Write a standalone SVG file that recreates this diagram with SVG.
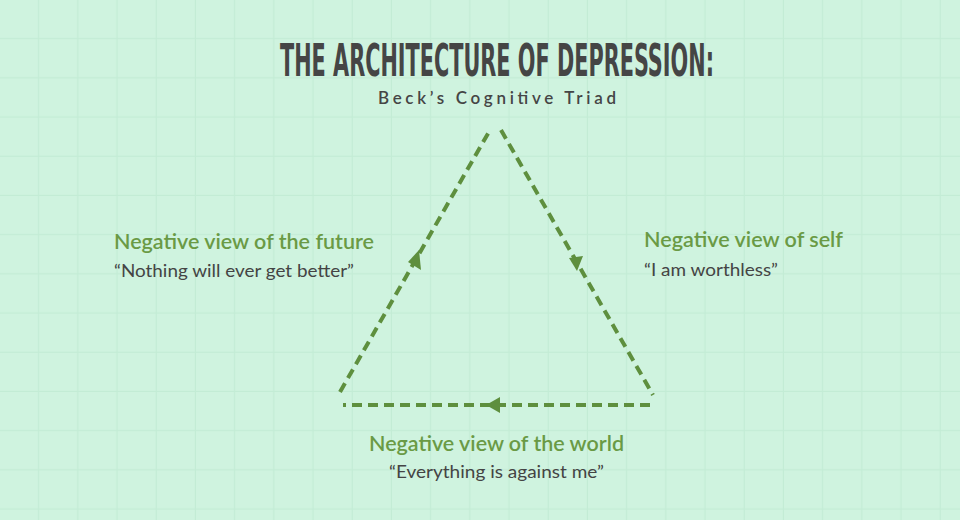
<svg xmlns="http://www.w3.org/2000/svg" width="960" height="520" viewBox="0 0 960 520">
<defs>
<pattern id="grid" width="39.2" height="39.2" patternUnits="userSpaceOnUse" x="0" y="0">
<rect x="38" y="0" width="2.5" height="39.2" fill="#c3ecd5"/>
<rect x="0" y="38" width="39.2" height="2.5" fill="#c3ecd5"/>
</pattern>
</defs>
<style>
.edge{stroke:#5e8f3e;stroke-width:4;stroke-dasharray:10,6;fill:none}
.head{fill:#5e8f3e}
.lbl{font-family:Lato,"Open Sans",sans-serif;font-weight:600;font-size:21px;fill:#6a9a45}
.q{font-family:Lato,"Open Sans",sans-serif;font-size:17px;fill:#444}
</style>
<rect width="960" height="520" fill="#cff3df"/>
<rect width="960" height="520" fill="url(#grid)"/>
<text x="497" y="76" text-anchor="middle" font-family="'DejaVu Sans Condensed','Liberation Sans Narrow',sans-serif" font-weight="bold" font-size="44" fill="#454545" textLength="434" lengthAdjust="spacingAndGlyphs">THE ARCHITECTURE OF DEPRESSION:</text>
<text x="497" y="104" text-anchor="middle" font-family="Lato,sans-serif" font-weight="600" font-size="17" fill="#454545" textLength="238" lengthAdjust="spacing">Beck’s Cognitive Triad</text>
<g id="connectors">
<line class="edge" x1="340" y1="392" x2="490" y2="130"/>
<line class="edge" x1="501" y1="130" x2="653" y2="395"/>
<line class="edge" x1="650" y1="405" x2="343" y2="405"/>
<path class="head" d="M419,250 L421,270 L408,262 z"/>
<path class="head" d="M577,271 L569,258 L583,256 z"/>
<path class="head" d="M486,405 L500,397 L500,413 z"/>
</g>
<g id="future">
<text class="lbl" x="114" y="249" textLength="260" lengthAdjust="spacingAndGlyphs">Negative view of the future</text>
<text class="q" x="114" y="277" textLength="240" lengthAdjust="spacingAndGlyphs">“Nothing will ever get better”</text>
</g>
<g id="self">
<text class="lbl" x="644" y="247" textLength="199" lengthAdjust="spacingAndGlyphs">Negative view of self</text>
<text class="q" x="644" y="276" textLength="134" lengthAdjust="spacingAndGlyphs">“I am worthless”</text>
</g>
<g id="world">
<text class="lbl" x="369" y="451" textLength="255" lengthAdjust="spacingAndGlyphs">Negative view of the world</text>
<text class="q" x="389" y="478" textLength="215" lengthAdjust="spacingAndGlyphs">“Everything is against me”</text>
</g>
</svg>
